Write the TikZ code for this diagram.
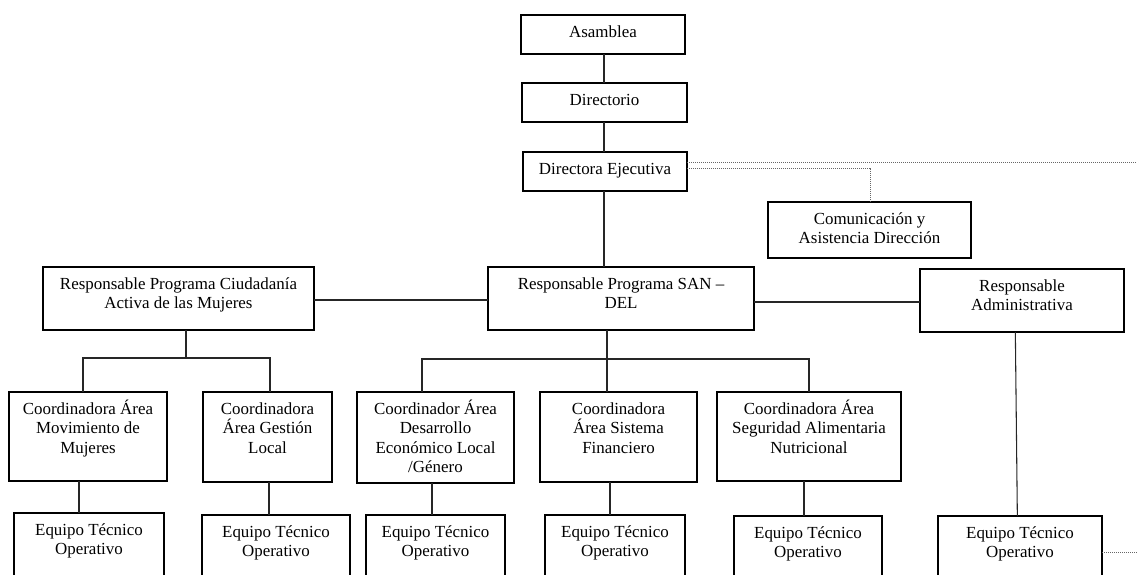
\documentclass[tikz,border=0pt]{standalone}
\usepackage{fontspec}
\setmainfont{Liberation Serif}
\usetikzlibrary{calc}

% box with fixed corners (in px units) and top-aligned, centred text
\newcommand\orgbox[6]{%
  \node[orgbox, anchor=north west] (#1) at (#2,#3)
    {\parbox[c][\dimexpr 0.75pt*(#5-#3)\relax][t]{\dimexpr 0.75pt*(#4-#2)\relax}%
      {\centering\rule{0pt}{16.8pt}#6\par}};%
}

\tikzset{
  orgbox/.style={draw, line width=0.8pt, inner sep=0pt, outer sep=0pt,
    font=\fontsize{12.7}{14.6}\selectfont},
  link/.style={line width=0.8pt, draw=black!85},
  dotlink/.style={line width=0.7pt, draw=black!60, dash pattern=on 0.9pt off 0.6pt},
}

\begin{document}
\begin{tikzpicture}[x=0.75pt, y=-0.75pt]
\useasboundingbox (0,0) rectangle (1137,574);
\clip (0,0) rectangle (1137,574);

% top of the hierarchy
\orgbox{asam}{521}{15}{685}{54}{Asamblea}
\orgbox{dir}{522}{83}{687}{122}{Directorio}
\orgbox{de}{523}{152}{687}{191}{Directora Ejecutiva}
\orgbox{com}{768}{202}{971}{258}{Comunicación y\\Asistencia Dirección}

% programme heads
\orgbox{cda}{43}{267}{314}{330}{Responsable Programa Ciudadanía\\Activa de las Mujeres}
\orgbox{san}{488}{267}{754}{330}{Responsable Programa SAN –\\DEL}
\orgbox{adm}{920}{269}{1124}{332}{Responsable\\Administrativa}

% area coordinators
\orgbox{cmm}{9}{392}{167}{481}{Coordinadora Área\\Movimiento de\\Mujeres}
\orgbox{cgl}{203}{392}{332}{482}{Coordinadora\\Área Gestión\\Local}
\orgbox{cdl}{357}{392}{514}{483}{Coordinador Área\\Desarrollo\\Económico Local\\/Género}
\orgbox{csf}{540}{392}{697}{482}{Coordinadora\\Área Sistema\\Financiero}
\orgbox{csa}{717}{392}{901}{481}{Coordinadora Área\\Seguridad Alimentaria\\Nutricional}

% technical teams
\orgbox{e1}{14}{513}{164}{600}{Equipo Técnico\\Operativo}
\orgbox{e2}{202}{515}{350}{600}{Equipo Técnico\\Operativo}
\orgbox{e3}{366}{515}{505}{600}{Equipo Técnico\\Operativo}
\orgbox{e4}{545}{515}{685}{600}{Equipo Técnico\\Operativo}
\orgbox{e5}{734}{516}{882}{600}{Equipo Técnico\\Operativo}
\orgbox{e6}{938}{516}{1102}{600}{Equipo Técnico\\Operativo}

% junction points
\coordinate (trunk) at (604,0);
\coordinate (rimA) at (1137,162);
\coordinate (jc) at (870,168);
\coordinate (rimB) at (1137,552);
\coordinate (hl) at (0,300);
\coordinate (hr) at (0,302);
\coordinate (jl1) at (83,358);
\coordinate (jl2) at (186,358);
\coordinate (jl3) at (270,358);
\coordinate (jm1) at (422,359);
\coordinate (jm2) at (607,359);
\coordinate (jm4) at (809,359);

% main trunk
\draw[link] (asam.south -| trunk) -- (dir.north -| trunk);
\draw[link] (dir.south -| trunk) -- (de.north -| trunk);
\draw[link] (de.south -| trunk) -- (san.north -| trunk);

% dotted staff lines
\draw[dotlink] (de.east |- rimA) -- (rimA);
\draw[dotlink] (de.east |- jc) -- (jc) -- (com.north -| jc);

% programme level
\draw[link] (cda.east |- hl) -- (san.west |- hl);
\draw[link] (san.east |- hr) -- (adm.west |- hr);

% left programme
\draw[link] (cda.south -| jl2) -- (jl2);
\draw[link] (cmm.north -| jl1) -- (jl1) -- (jl3) -- (cgl.north -| jl3);

% SAN-DEL programme
\draw[link] (san.south -| jm2) -- (jm2) -- (csf.north -| jm2);
\draw[link] (cdl.north -| jm1) -- (jm1) -- (jm4) -- (csa.north -| jm4);

% coordinators to teams
\draw[link] (cmm.south -| 79,0) -- (e1.north -| 79,0);
\draw[link] (cgl.south -| 269,0) -- (e2.north -| 269,0);
\draw[link] (cdl.south -| 432,0) -- (e3.north -| 432,0);
\draw[link] (csf.south -| 610,0) -- (e4.north -| 610,0);
\draw[link] (csa.south -| 804,0) -- (e5.north -| 804,0);

% administration
\draw[link] ([xshift=-5]adm.south) -- ([xshift=-2]e6.north);
\draw[dotlink] (e6.east |- rimB) -- (rimB);
\end{tikzpicture}
\end{document}
